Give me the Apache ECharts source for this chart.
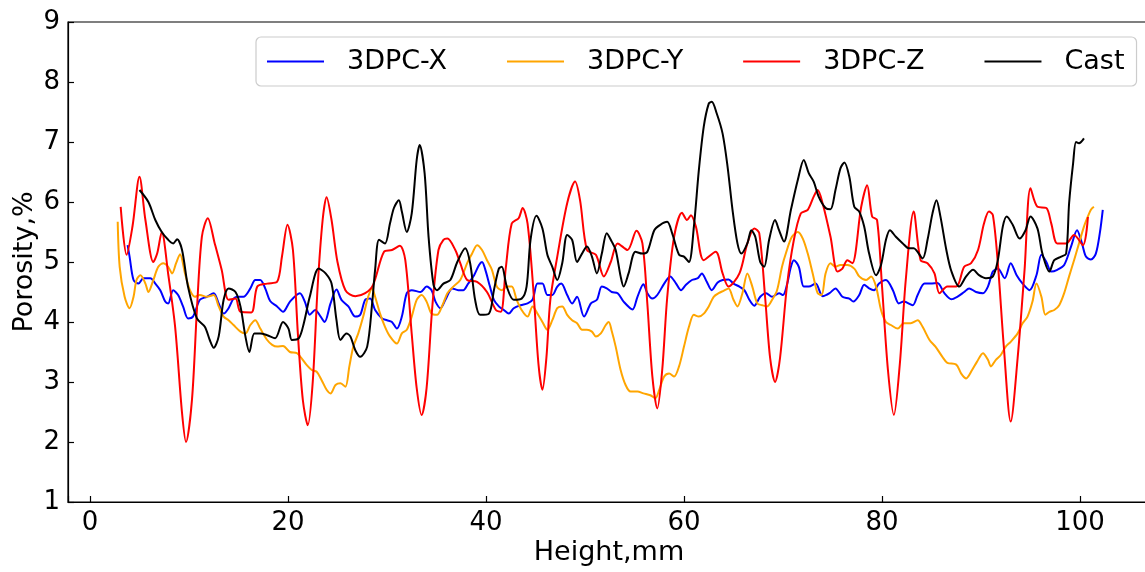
<!DOCTYPE html>
<html>
<head>
<meta charset="utf-8">
<script src="https://cdn.jsdelivr.net/npm/echarts@6/dist/echarts.min.js"></script>
<style>
html,body{margin:0;padding:0;background:#fff;}
#chart{width:1145px;height:572px;}
</style>
</head>
<body>
<div id="chart"></div>
<script>
// ---- data (Height in mm, Porosity in %) ----
const seriesNames = ['3DPC-X', '3DPC-Y', '3DPC-Z', 'Cast'];
const seriesColors = ['#0000ff', '#ffa500', '#ff0000', '#000000'];

const heightX = [3.8,4.0,4.4,4.9,5.4,6.1,6.6,7.1,7.6,7.9,8.4,8.9,9.4,9.9,10.4,11.1,11.8,12.5,13.0,13.5,14.0,14.5,15.0,15.5,16.2,16.7,17.2,17.7,18.2,18.9,19.5,20.2,21.2,21.7,22.2,22.75,23.3,23.7,24.3,24.9,25.4,26.1,26.8,27.3,27.8,28.3,28.8,29.5,30.0,30.5,31.0,31.5,32.0,32.5,33.4,34.0,34.5,34.9,35.4,35.9,36.6,37.2,37.7,38.2,38.8,39.3,39.6,39.9,40.4,40.8,41.3,41.8,42.3,42.8,43.5,44.2,44.7,45.2,45.7,46.2,46.7,47.2,47.6,48.2,48.7,49.2,49.9,50.6,51.2,51.7,52.2,52.7,53.3,53.9,54.8,55.3,55.9,56.3,56.8,57.3,58.0,58.6,59.2,59.7,60.2,60.8,61.4,61.8,62.3,62.8,63.4,63.9,64.5,65.0,65.6,66.1,66.6,67.1,67.7,68.3,68.9,69.6,70.0,70.4,70.8,71.1,71.6,72.1,72.6,73.3,74.0,74.7,75.3,76.0,76.7,77.1,77.7,78.2,78.7,79.2,79.7,80.4,81.1,81.7,82.2,83.1,83.6,84.3,84.9,85.6,86.3,87.0,87.6,88.3,88.8,89.5,90.2,90.7,91.2,91.7,92.4,93.0,93.6,94.2,94.9,95.6,96.1,96.6,97.1,97.7,98.4,99.1,99.7,100.2,100.6,101.1,101.6,102.0,102.3];
const porosityX = [5.28,5.09,4.70,4.64,4.73,4.73,4.64,4.53,4.34,4.31,4.53,4.45,4.26,4.06,4.09,4.37,4.42,4.48,4.31,4.14,4.23,4.39,4.42,4.42,4.56,4.70,4.70,4.56,4.35,4.26,4.17,4.34,4.48,4.34,4.12,4.20,4.09,4.00,4.31,4.54,4.37,4.26,4.09,4.12,4.37,4.39,4.20,4.06,4.03,4.00,3.89,4.09,4.48,4.53,4.50,4.59,4.53,4.34,4.23,4.37,4.56,4.53,4.53,4.64,4.78,4.95,5.00,4.89,4.59,4.37,4.26,4.20,4.14,4.23,4.28,4.31,4.37,4.64,4.64,4.45,4.45,4.59,4.64,4.45,4.31,4.42,4.09,4.31,4.37,4.59,4.56,4.50,4.48,4.34,4.21,4.42,4.63,4.48,4.39,4.45,4.64,4.76,4.64,4.53,4.62,4.70,4.73,4.81,4.67,4.53,4.66,4.70,4.71,4.64,4.59,4.53,4.37,4.27,4.42,4.48,4.42,4.48,4.45,4.62,4.92,5.03,4.92,4.59,4.59,4.64,4.43,4.48,4.56,4.42,4.39,4.34,4.45,4.62,4.56,4.53,4.64,4.70,4.53,4.31,4.34,4.28,4.45,4.64,4.64,4.65,4.48,4.38,4.42,4.50,4.56,4.50,4.48,4.59,4.84,4.89,4.73,4.98,4.78,4.64,4.53,4.78,5.12,5.00,4.84,4.87,4.95,5.26,5.53,5.31,5.09,5.04,5.14,5.48,5.87];

const heightY = [2.8,3.0,3.5,4.0,4.4,4.7,5.1,5.6,5.9,6.4,6.9,7.4,7.9,8.3,8.7,9.1,9.6,10.1,10.6,11.1,11.8,12.5,13.0,13.5,14.0,14.5,15.2,15.7,16.2,16.7,17.2,17.9,18.4,18.9,19.5,20.2,20.9,21.4,21.9,22.4,22.9,23.4,23.9,24.3,24.8,25.3,25.8,26.2,26.6,27.1,27.6,28.1,28.5,28.8,29.3,29.8,30.3,31.0,31.5,32.0,32.5,33.0,33.5,34.0,34.5,35.05,35.6,36.1,36.7,37.4,38.1,38.6,39.1,39.6,40.1,40.6,41.1,41.6,42.1,42.6,43.1,43.6,44.2,44.7,45.2,45.7,46.2,46.7,47.2,47.7,48.2,48.7,49.2,49.7,50.2,50.7,51.1,51.6,52.1,52.4,52.7,53.1,53.6,54.1,54.6,55.3,55.9,56.6,57.1,57.5,58.0,58.5,59.0,59.5,60.0,60.5,61.0,61.5,62.0,62.5,63.0,63.5,64.0,64.5,65.0,65.4,65.9,66.4,66.9,67.4,67.9,68.4,68.9,69.4,69.9,70.3,70.9,71.5,72.0,72.5,73.0,73.5,73.9,74.3,74.8,75.3,75.8,76.5,77.2,77.7,78.4,78.9,79.4,79.9,80.4,80.9,81.6,82.2,82.9,83.6,84.1,84.8,85.4,86.1,86.6,87.5,88.0,88.5,89.1,89.6,90.2,90.7,91.0,91.5,92.0,92.5,93.0,93.7,94.2,94.7,95.2,95.6,96.1,96.5,96.9,97.4,97.9,98.4,98.9,99.4,99.9,100.4,100.8,101.1,101.4];
const porosityY = [5.67,4.92,4.42,4.23,4.42,4.70,4.78,4.64,4.50,4.70,4.92,4.98,4.92,4.81,4.98,5.13,4.81,4.53,4.42,4.45,4.42,4.45,4.26,4.09,4.03,3.95,3.84,3.81,3.95,4.03,3.89,3.70,3.62,3.59,3.60,3.50,3.48,3.39,3.28,3.20,3.17,3.03,2.87,2.81,2.95,2.98,2.92,3.26,3.59,3.81,4.09,4.42,4.56,4.42,4.14,3.92,3.76,3.64,3.81,3.87,4.09,4.37,4.45,4.34,4.14,4.12,4.28,4.48,4.59,4.70,4.98,5.14,5.28,5.20,5.03,4.87,4.59,4.53,4.59,4.59,4.37,4.20,4.09,4.26,4.14,4.00,3.87,4.03,4.23,4.26,4.12,4.03,3.98,3.87,3.87,3.84,3.76,3.81,3.95,4.00,3.85,3.59,3.20,2.95,2.84,2.84,2.81,2.78,2.73,2.87,3.09,3.14,3.09,3.26,3.59,3.92,4.12,4.09,4.14,4.26,4.42,4.48,4.52,4.56,4.37,4.26,4.48,4.81,4.59,4.31,4.28,4.26,4.37,4.53,4.92,5.15,5.42,5.50,5.39,5.14,4.81,4.48,4.45,4.81,4.98,4.92,4.95,4.95,4.89,4.76,4.70,4.76,4.59,4.20,4.00,3.95,3.89,3.98,3.98,4.03,3.92,3.70,3.59,3.42,3.32,3.29,3.14,3.06,3.20,3.34,3.48,3.37,3.26,3.37,3.45,3.59,3.67,3.81,3.98,4.09,4.34,4.64,4.42,4.12,4.17,4.20,4.28,4.48,4.76,5.03,5.31,5.59,5.76,5.87,5.92];

const heightZ = [3.1,3.7,4.3,5.0,5.6,6.4,6.8,7.25,7.9,8.6,9.3,9.7,10.3,10.8,11.3,11.9,12.6,13.3,14.0,14.7,15.2,16.3,16.9,17.9,18.9,19.4,19.95,20.5,21.0,21.5,22.0,22.5,23.0,23.5,23.9,24.4,25.0,25.8,26.8,27.8,28.6,29.7,30.5,31.3,31.85,32.5,33.0,33.5,34.0,34.6,35.2,35.7,36.1,36.9,37.4,38.1,39.1,40.1,41.0,41.5,42.0,42.6,43.3,43.7,44.2,44.8,45.3,45.7,46.1,46.5,47.2,48.2,49.0,49.5,50.2,51.1,51.9,52.6,53.3,54.3,55.2,55.8,56.3,56.8,57.3,57.8,58.3,59.0,59.8,60.3,60.7,61.2,62.0,63.2,63.9,64.5,65.6,66.4,67.1,67.6,68.2,68.7,69.2,69.7,70.4,71.1,71.8,72.5,73.1,73.5,74.0,74.8,75.5,76.0,76.5,77.0,77.9,78.5,79.0,79.5,80.0,80.6,81.2,81.8,82.4,83.2,83.9,84.6,85.3,85.8,86.6,87.5,88.3,89.0,89.7,90.3,90.8,91.2,91.7,92.3,93.0,93.7,94.4,95.0,95.7,96.6,97.1,97.7,98.6,99.4,100.3,100.8];
const porosityZ = [5.92,5.12,5.60,6.42,5.70,5.00,5.15,5.50,4.80,3.92,2.48,2.00,2.70,4.20,5.42,5.73,5.31,4.87,4.37,4.39,4.17,4.16,4.59,4.64,4.67,5.10,5.62,5.20,3.80,2.70,2.28,3.00,4.60,5.70,6.08,5.70,5.00,4.53,4.43,4.48,4.62,5.17,5.20,5.27,5.03,3.80,2.90,2.45,2.90,4.30,5.20,5.37,5.39,5.20,4.98,4.70,4.67,4.50,4.20,4.17,4.90,5.64,5.73,5.90,5.64,4.50,3.30,2.87,3.40,4.37,5.09,5.98,6.34,6.03,5.20,5.12,4.76,5.00,5.31,5.20,5.52,5.31,4.30,3.10,2.56,3.20,4.40,5.42,5.82,5.70,5.78,5.59,5.03,5.17,4.81,4.59,4.81,5.31,5.56,5.48,4.40,3.40,3.00,3.40,4.60,5.37,5.81,5.87,6.09,6.20,5.98,5.42,4.84,4.89,5.03,4.98,5.92,6.28,5.76,5.70,4.60,3.20,2.45,3.30,4.70,5.84,5.03,4.98,4.81,4.48,4.59,4.59,4.92,4.98,5.20,5.64,5.84,5.78,4.98,3.60,2.34,3.40,4.87,6.23,5.92,5.90,5.64,5.31,5.31,5.45,5.28,5.75];

const heightCast = [5.0,5.9,6.6,7.25,7.9,8.4,8.8,9.3,9.9,10.8,11.6,12.1,12.5,13.0,13.5,14.0,14.7,15.2,15.7,16.1,16.6,17.2,17.9,18.7,19.5,20.05,20.4,21.1,21.6,22.2,23.1,23.8,24.4,24.9,25.3,25.9,26.3,26.8,27.3,28.0,28.5,28.8,29.2,29.8,30.3,30.7,31.2,31.5,32.0,32.5,33.0,33.3,33.8,34.2,34.7,35.05,35.7,36.4,37.1,37.9,38.4,38.9,39.4,40.3,40.8,41.3,41.6,42.1,42.8,43.6,44.1,44.5,45.1,45.7,46.2,46.7,47.2,47.7,48.2,48.7,49.2,49.7,50.2,50.7,51.2,51.7,52.2,52.7,53.1,53.6,53.9,54.4,55.1,55.8,56.3,57.0,57.6,58.3,58.8,59.5,60.0,60.5,61.0,61.5,62.0,62.5,62.8,63.3,63.9,64.4,64.9,65.4,65.8,66.4,66.8,67.2,67.7,68.1,68.6,69.2,69.6,70.1,70.8,71.5,72.1,72.6,73.1,73.6,74.3,74.8,75.3,75.8,76.2,76.7,77.2,77.7,78.2,78.7,79.4,79.9,80.4,80.8,81.4,82.1,82.7,83.2,84.1,84.6,85.1,85.5,85.9,86.5,87.0,87.8,88.5,89.2,89.8,90.5,91.2,91.7,92.2,92.6,93.2,93.9,94.5,95.0,95.7,96.2,96.9,97.4,98.1,98.6,98.9,99.3,99.6,99.9,100.4];
const porosityCast = [6.20,6.00,5.70,5.50,5.37,5.31,5.38,5.20,4.59,4.06,3.92,3.70,3.57,3.76,4.37,4.56,4.50,4.26,3.76,3.50,3.81,3.81,3.78,3.73,4.00,3.89,3.70,3.73,3.98,4.42,4.89,4.81,4.64,4.03,3.70,3.81,3.76,3.53,3.42,3.59,4.31,4.87,5.37,5.31,5.64,5.90,6.03,5.84,5.50,5.81,6.70,6.95,6.48,5.42,4.62,4.53,4.64,4.70,5.00,5.23,4.98,4.37,4.12,4.14,4.53,4.89,4.92,4.59,4.37,4.39,4.59,5.37,5.77,5.56,5.12,4.92,4.70,4.98,5.45,5.37,5.00,5.14,5.26,5.09,4.81,5.14,5.48,5.34,5.20,4.76,4.59,4.81,5.17,5.14,5.17,5.53,5.62,5.67,5.48,5.12,5.09,5.00,5.59,6.53,7.26,7.64,7.67,7.48,7.14,6.59,5.87,5.31,5.14,5.31,5.53,5.42,5.00,4.92,5.37,5.70,5.53,5.34,5.87,6.37,6.70,6.48,6.34,6.09,5.90,5.88,6.20,6.56,6.66,6.42,5.92,5.84,5.59,5.14,4.78,4.95,5.37,5.53,5.42,5.31,5.23,5.23,5.06,5.37,5.81,6.03,5.76,5.20,4.85,4.59,4.76,4.87,4.78,4.73,4.76,5.03,5.59,5.76,5.62,5.39,5.53,5.76,5.56,5.14,4.84,5.03,5.09,5.14,5.98,6.64,7.00,6.98,7.06];

const xTickValues = [0, 20, 40, 60, 80, 100];
const yTickValues = [1, 2, 3, 4, 5, 6, 7, 8, 9];

function zip(xs, ys) { return xs.map((x, i) => [x, ys[i]]); }
const allHeights = [heightX, heightY, heightZ, heightCast];
const allPorosity = [porosityX, porosityY, porosityZ, porosityCast];

const FONT = 'DejaVu Sans';
const chart = echarts.init(document.getElementById('chart'), null, {renderer: 'canvas'});
chart.setOption({
  animation: false,
  backgroundColor: '#ffffff',
  grid: {left: 68, width: 1082, top: 22, height: 480, outerBoundsMode: 'none', containLabel: false,
         show: true, borderColor: '#000', borderWidth: 1.2, backgroundColor: 'transparent'},
  xAxis: {
    type: 'value', min: -2.22, max: 107.07, splitNumber: 5,
    name: 'Height,mm', nameLocation: 'middle', nameGap: 37, nameMoveOverlap: false,
    nameTextStyle: {fontFamily: FONT, fontSize: 27, color: '#000'},
    axisLine: {show: true, onZero: false, lineStyle: {color: '#000', width: 1.2}},
    axisTick: {show: true, inside: true, length: 6, lineStyle: {color: '#000', width: 1.2}},
    axisLabel: {fontFamily: FONT, fontSize: 26, color: '#000', margin: 8,
      formatter: v => (xTickValues.some(t => Math.abs(t - v) < 1e-6) ? String(Math.round(v)) : '')},
    splitLine: {show: false}
  },
  yAxis: {
    type: 'value', min: yTickValues[0], max: yTickValues[yTickValues.length - 1], interval: 1,
    name: 'Porosity,%', nameLocation: 'middle', nameGap: 30, nameRotate: 90, nameMoveOverlap: false,
    nameTextStyle: {fontFamily: FONT, fontSize: 27, color: '#000'},
    axisLine: {show: true, onZero: false, lineStyle: {color: '#000', width: 1.2}},
    axisTick: {show: true, inside: true, length: 6, lineStyle: {color: '#000', width: 1.2}},
    axisLabel: {fontFamily: FONT, fontSize: 26, color: '#000', margin: 8},
    splitLine: {show: false}
  },
  legend: {
    left: 256, top: 37, orient: 'horizontal',
    icon: 'rect', itemWidth: 57, itemHeight: 2, itemGap: 60,
    padding: [11, 12, 11, 11],
    backgroundColor: 'rgba(255,255,255,0.8)', borderColor: '#cccccc', borderWidth: 1.2, borderRadius: 5,
    textStyle: {fontFamily: FONT, fontSize: 27, color: '#000', padding: [0, 0, 0, 18], lineHeight: 27},
    data: seriesNames
  },
  series: seriesNames.map((name, i) => ({
    name: name, type: 'line', showSymbol: false, symbol: 'none', smooth: 0.3,
    color: seriesColors[i],
    lineStyle: {color: seriesColors[i], width: 2},
    data: zip(allHeights[i], allPorosity[i]),
    z: 2 + i
  }))
});
</script>
</body>
</html>
